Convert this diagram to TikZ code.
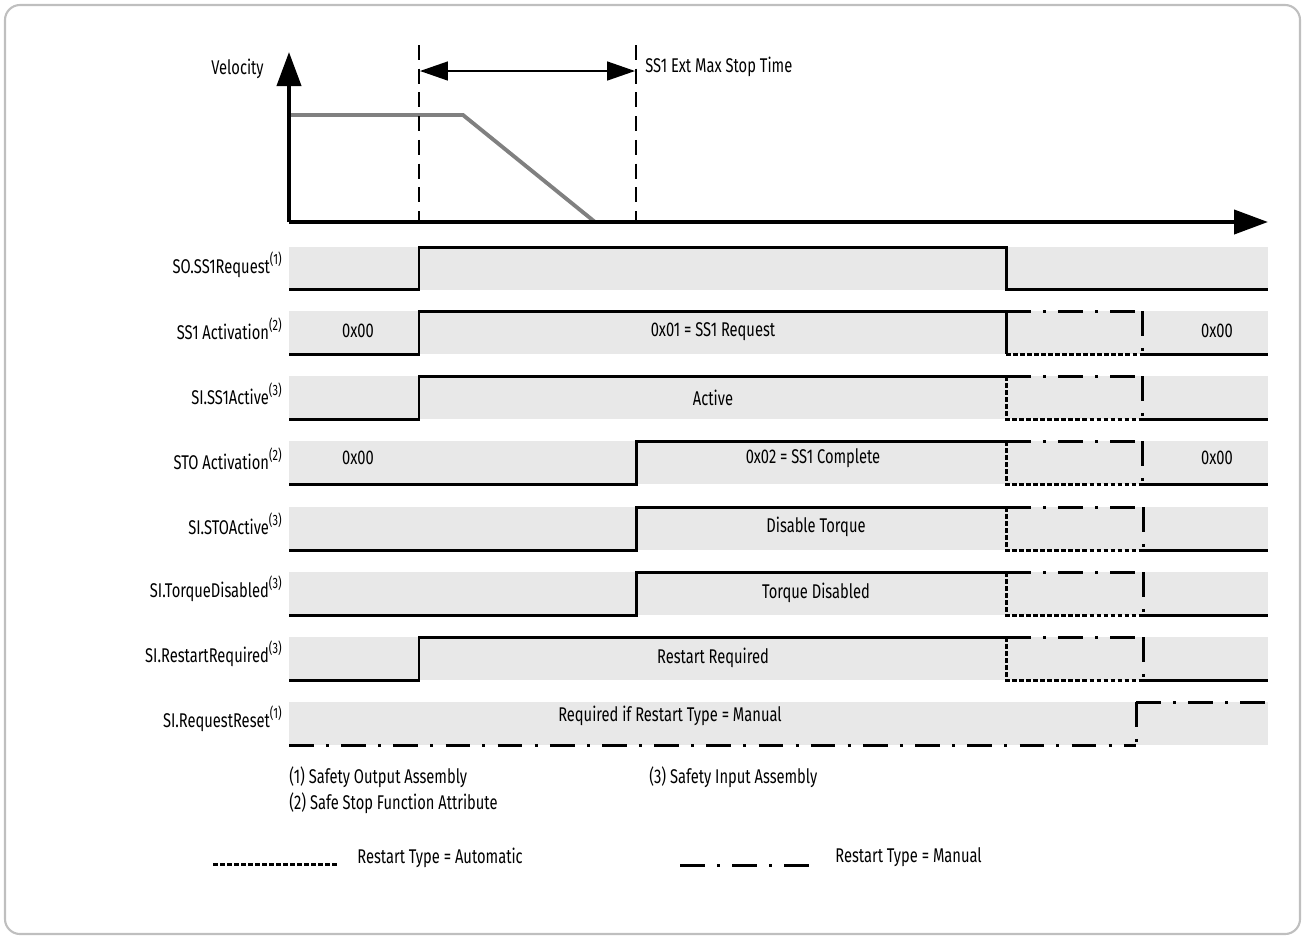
\documentclass[tikz,border=0pt]{standalone}
\usepackage{fontspec}
\setmainfont{Fira Sans}[FakeStretch=0.74]
\usepackage{tikz}
\usetikzlibrary{arrows.meta}
\newcommand\fnmark[1]{\raisebox{0.85ex}{\fontsize{8.5}{9}\selectfont(#1)}}

\begin{document}
\begin{tikzpicture}[x=0.02cm, y=-0.02cm,
  font=\fontsize{11.3}{13}\selectfont,
  band/.style={fill=black!9, draw=none},
  sig/.style={line width=1.7pt},
  autoline/.style={line width=1.7pt, dash pattern=on 2.6pt off 1.4pt},
  manualline/.style={line width=1.7pt, dash pattern=on 14pt off 7pt on 1.7pt off 7pt},
  axis/.style={line width=2.3pt, -{Triangle[length=0.68cm, width=0.48cm]}},
  stopline/.style={line width=1.1pt, dash pattern=on 8.5pt off 5pt},
  lbl/.style={anchor=east, inner sep=0pt},
  val/.style={inner sep=0pt},
  ]
  \useasboundingbox (0,0) rectangle (1305,938);
  \draw[black!25, line width=1.2pt, rounded corners=0.3cm] (5,5) rectangle (1300,934);

  \coordinate (o) at (289,222);
  \coordinate (vt) at (289,52);
  \coordinate (ht) at (1268,222);
  \coordinate (d1a) at (419,45);
  \coordinate (d1b) at (419,222);
  \coordinate (d2a) at (636,45);
  \coordinate (d2b) at (636,222);
  \coordinate (ta) at (420,71);
  \coordinate (tb) at (635,71);

  \draw[black!50, line width=2.2pt] (289,115) -- (463,115) -- (595,222);
  \draw[stopline] (d1a) -- (d1b);
  \draw[stopline] (d2a) -- (d2b);
  \draw[line width=0.9pt, {Triangle[length=0.56cm, width=0.38cm]}-{Triangle[length=0.56cm, width=0.38cm]}] (ta) -- (tb);
  \draw[axis] (o) -- (vt);
  \draw[axis] (o) -- (ht);
  \node[lbl] (vel) at (264,69) {Velocity};
  \node[val, anchor=west] (tmax) at (645,67) {SS1 Ext Max Stop Time};

  \foreach \t in {247,311,376,441,507,572,637,702}
    \fill[band] (289,\t) rectangle (1268,\t+43);

  \node[lbl] (lreq) at (282,265) {SO.SS1Request\fnmark{1}};
  \node[lbl] (lss1) at (282,329) {SS1 Activation\fnmark{2}};
  \node[lbl] (lact) at (282,394) {SI.SS1Active\fnmark{3}};
  \node[lbl] (lsto) at (282,459) {STO Activation\fnmark{2}};
  \node[lbl] (lstoa) at (282,524) {SI.STOActive\fnmark{3}};
  \node[lbl] (ltd) at (282,589) {SI.TorqueDisabled\fnmark{3}};
  \node[lbl] (lrr) at (282,654) {SI.RestartRequired\fnmark{3}};
  \node[lbl] (lrst) at (282,719) {SI.RequestReset\fnmark{1}};

  \draw[sig] (289,289) -- (419,289) -- (419,247) -- (1006,247) -- (1006,289) -- (1268,289);

  \draw[sig] (289,354) -- (419,354) -- (419,311) -- (1006,311) -- (1006,354);
  \draw[manualline] (1006,311) -- (1142,311);
  \draw[manualline] (1142,311) -- (1142,354);
  \draw[autoline] (1006,354) -- (1142,354);
  \draw[sig] (1142,354) -- (1268,354);
  \node[val] (v1) at (358,331) {0x00};
  \node[val] (v2) at (713,332) {0x01 = SS1 Request};
  \node[val] (v3) at (1217,331) {0x00};

  \draw[sig] (289,419) -- (419,419) -- (419,376) -- (1006,376);
  \draw[manualline] (1006,376) -- (1142,376);
  \draw[manualline] (1142,376) -- (1142,419);
  \draw[autoline] (1006,376) -- (1006,419) -- (1142,419);
  \draw[sig] (1142,419) -- (1268,419);
  \node[val] (v4) at (713,398) {Active};

  \draw[sig] (289,484) -- (636,484) -- (636,441) -- (1006,441);
  \draw[manualline] (1006,441) -- (1142,441);
  \draw[manualline] (1142,441) -- (1142,484);
  \draw[autoline] (1006,441) -- (1006,484) -- (1142,484);
  \draw[sig] (1142,484) -- (1268,484);
  \node[val] (v5) at (358,458) {0x00};
  \node[val] (v6) at (813,458) {0x02 = SS1 Complete};
  \node[val] (v7) at (1217,458) {0x00};

  \draw[sig] (289,550) -- (636,550) -- (636,507) -- (1006,507);
  \draw[manualline] (1006,507) -- (1143,507);
  \draw[manualline] (1143,507) -- (1143,550);
  \draw[autoline] (1006,507) -- (1006,550) -- (1143,550);
  \draw[sig] (1143,550) -- (1268,550);
  \node[val] (v8) at (816,527) {Disable Torque};

  \draw[sig] (289,615) -- (636,615) -- (636,572) -- (1006,572);
  \draw[manualline] (1006,572) -- (1143,572);
  \draw[manualline] (1143,572) -- (1143,615);
  \draw[autoline] (1006,572) -- (1006,615) -- (1143,615);
  \draw[sig] (1143,615) -- (1268,615);
  \node[val] (v9) at (816,593) {Torque Disabled};

  \draw[sig] (289,680) -- (419,680) -- (419,637) -- (1006,637);
  \draw[manualline] (1006,637) -- (1143,637);
  \draw[manualline] (1143,637) -- (1143,680);
  \draw[autoline] (1006,637) -- (1006,680) -- (1143,680);
  \draw[sig] (1143,680) -- (1268,680);
  \node[val] (v10) at (713,658) {Restart Required};

  \draw[manualline] (289,745) -- (1136,745);
  \draw[manualline] (1136,702) -- (1136,745);
  \draw[manualline] (1136,702) -- (1268,702);
  \node[val] (v11) at (670,716) {Required if Restart Type = Manual};

  \node[val, anchor=west] (n1) at (289,777) {(1) Safety Output Assembly};
  \node[val, anchor=west] (n2) at (289,803) {(2) Safe Stop Function Attribute};
  \node[val, anchor=west] (n3) at (649,777) {(3) Safety Input Assembly};

  \coordinate (aa) at (213,864);
  \coordinate (ab) at (337,864);
  \coordinate (ma) at (680,865);
  \coordinate (mb) at (817,865);
  \draw[autoline] (aa) -- (ab);
  \node[val, anchor=west] (ka) at (357,858) {Restart Type = Automatic};
  \draw[manualline] (ma) -- (mb);
  \node[val, anchor=west] (km) at (835,857) {Restart Type = Manual};
\end{tikzpicture}
\end{document}
